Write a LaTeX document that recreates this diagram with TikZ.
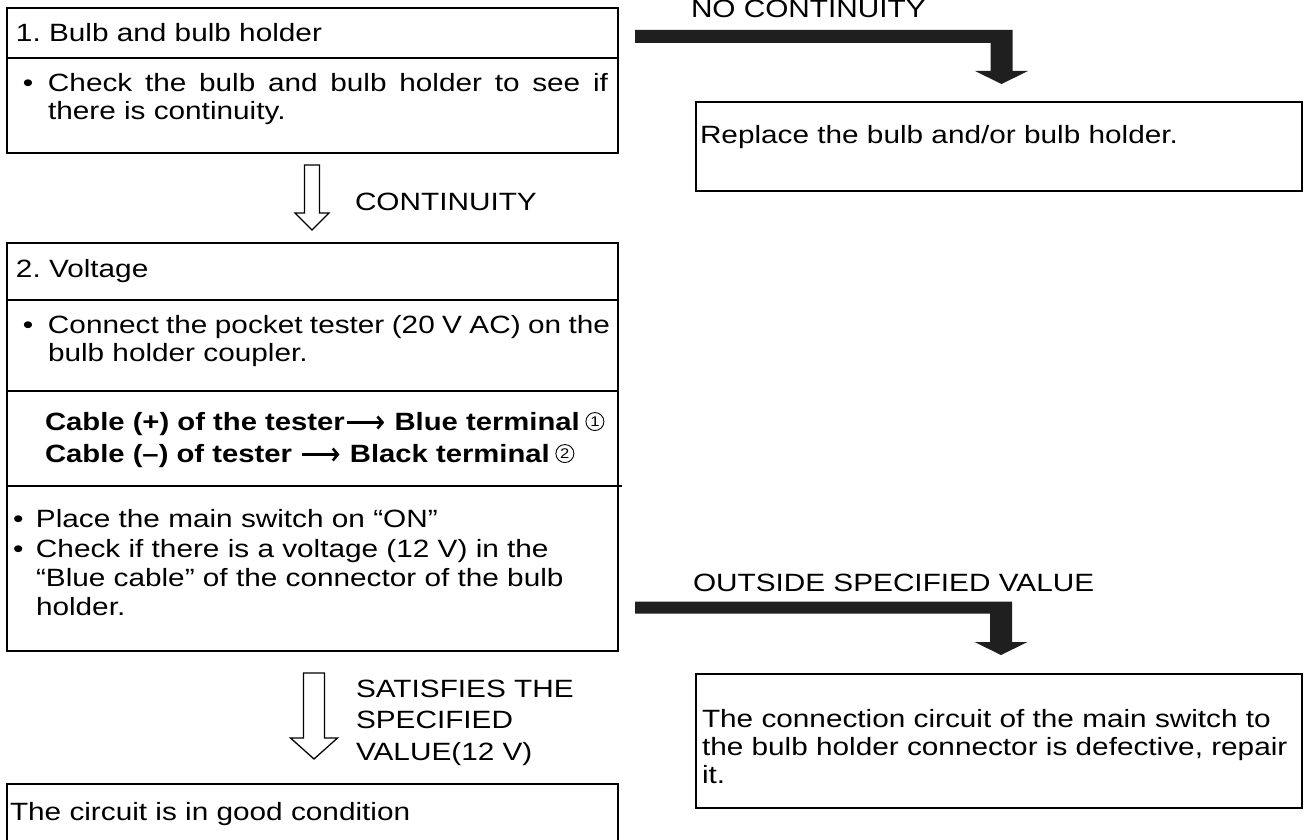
\documentclass[tikz,border=0pt]{standalone}
\usepackage{fontspec}
\setmainfont{Liberation Sans}[FakeStretch=1.19]
\newfontfamily\boldfam{Liberation Sans Bold}[FakeStretch=1.17]
\usetikzlibrary{calc,arrows.meta}

\tikzset{
  box/.style={draw, line width=2.5pt, inner sep=0pt, outer sep=0pt, anchor=north west},
  divider/.style={line width=2pt},
  txt/.style={inner sep=0pt, outer sep=0pt, anchor=base west, font=\fontsize{25}{29}\selectfont\frenchspacing},
  boldtxt/.style={txt, font=\boldfam\fontsize{25}{29}\selectfont\frenchspacing},
  circnum/.style={circle, draw, line width=0.9pt, inner sep=0pt, minimum size=18pt, anchor=south,
    font=\fontsize{14}{14}\selectfont},
  hollowarrow/.style={draw, line width=1.3pt, fill=white, line join=miter},
  thickarrow/.style={fill=black!88},
}

% #1 top, #2 tip, #3 shaft half width, #4 head half width, #5 head height
\newcommand\hollowdown[5]{%
  \draw[hollowarrow] ($(#1)+(-#3,0)$) -- ($(#1)+(#3,0)$) -- ($(#2)+(#3,-#5)$)
    -- ($(#2)+(#4,-#5)$) -- (#2) -- ($(#2)+(-#4,-#5)$) -- ($(#2)+(-#3,-#5)$) -- cycle;}
\newcommand\thickarrow[3]{%
  \fill[thickarrow] ($(#1)+(0,-#3)$) -- ($(#2 |- #1)+(11,-#3)$) -- ($(#2)+(11,-13)$)
    -- ($(#2)+(26.5,-13)$) -- (#2) -- ($(#2)+(-26.5,-13)$) -- ($(#2)+(-11,-13)$)
    -- ($(#2 |- #1)+(-11,#3)$) -- ($(#1)+(0,#3)$) -- cycle;}
\newcommand\boldarrow{\hspace{1pt}\tikz[baseline=-7.5pt]\draw[line width=2.6pt,
  -{Straight Barb[length=5pt,width=12pt]}] (0pt,0pt) -- (37pt,0pt);\hspace{1pt}}

\begin{document}
\begin{tikzpicture}[x=1pt,y=-1pt]
\useasboundingbox (0,0) rectangle (1309,840);
\fill[white] (0,0) rectangle (1309,840);
\clip (0,0) rectangle (1309,840);

% ---------- boxes ----------
\node[box, minimum width=611pt, minimum height=145pt] (b1) at (7,8) {};
\node[box, minimum width=606pt, minimum height=89pt] (rb) at (696,102) {};
\node[box, minimum width=611pt, minimum height=408pt] (b2) at (7,243) {};
\node[box, minimum width=611pt, minimum height=120pt] (b3) at (7,784) {};
\node[box, minimum width=606pt, minimum height=134pt] (b4) at (696,674) {};

% dividers
\draw[divider] ($(b1.north west)+(0,50)$) -- ($(b1.north east)+(0,50)$);
\draw[divider] ($(b2.north west)+(0,57)$) -- ($(b2.north east)+(0,57)$);
\draw[divider] ($(b2.north west)+(0,148)$) -- ($(b2.north east)+(0,148)$);
\draw[divider] ($(b2.north west)+(0,243)$) -- ($(b2.north east)+(4,243)$);

% ---------- box 1 ----------
\node[txt] (t1a) at (16,42) {1. Bulb and bulb holder};
\node[txt] (t1b) at (23,92) {\makebox[25pt][l]{•}\makebox[560pt][s]{Check the bulb and bulb holder to see if}};
\node[txt] (t1c) at (48,120) {there is continuity.};

% ---------- replace box ----------
\node[txt] (trb) at (700,143) {Replace the bulb and/or bulb holder.};

% ---------- box 2 ----------
\node[txt] (t2a) at (16,277) {2. Voltage};
\node[txt] (t2b) at (23,333) {\makebox[25pt][l]{•}\makebox[562pt][s]{Connect the pocket tester (20 V AC) on the}};
\node[txt] (t2c) at (48,361) {bulb holder coupler.};
\node[boldtxt] (t2d) at (45,430) {Cable (+) of the tester\boldarrow\ Blue terminal};
\node[circnum] (n1) at ($(t2d.base east)+(15,1)$) {1};
\node[boldtxt] (t2e) at (45,462) {Cable (–) of tester \boldarrow\ Black terminal};
\node[circnum] (n2) at ($(t2e.base east)+(15,1)$) {2};
\node[txt] (t2f) at (13,527) {\makebox[23pt][l]{•}Place the main switch on “ON”};
\node[txt] (t2g) at (13,557) {\makebox[23pt][l]{•}Check if there is a voltage (12 V) in the};
\node[txt] (t2h) at (36,586) {“Blue cable” of the connector of the bulb};
\node[txt] (t2i) at (36,615) {holder.};

% ---------- box 3 ----------
\node[txt] (t3) at (10,820) {The circuit is in good condition};

% ---------- box 4 ----------
\node[txt] (t4a) at (702,727) {The connection circuit of the main switch to};
\node[txt] (t4b) at (702,755) {the bulb holder connector is defective, repair};
\node[txt] (t4c) at (702,783) {it.};

% ---------- connectors ----------
\coordinate (h1s) at ($(b1.south)+(-0.5,12)$);
\coordinate (h1t) at ($(b2.north)+(-0.5,-13)$);
\hollowdown{h1s}{h1t}{7.5}{17}{17}
\node[txt] (lcont) at (355,210) {CONTINUITY};

\coordinate (h2s) at ($(b2.south)+(1.5,22)$);
\coordinate (h2t) at ($(b3.north)+(1.5,-25)$);
\hollowdown{h2s}{h2t}{10.5}{23.5}{21}
\node[txt] (lsat1) at (356,697) {SATISFIES THE};
\node[txt] (lsat2) at (356,728) {SPECIFIED};
\node[txt] (lsat3) at (356,760) {VALUE(12 V)};

\coordinate (k1s) at ($(b1.north east)+(17,28.5)$);
\coordinate (k1t) at ($(rb.north)+(2.5,-18)$);
\thickarrow{k1s}{k1t}{6.5}
\node[txt] (lnocont) at (691,18) {NO CONTINUITY};

\coordinate (k2s) at ($(b2.south east)+(17,-43.5)$);
\coordinate (k2t) at ($(b4.north)+(2,-19)$);
\thickarrow{k2s}{k2t}{6}
\node[txt] (lout) at (693,591) {OUTSIDE SPECIFIED VALUE};
\end{tikzpicture}
\end{document}
